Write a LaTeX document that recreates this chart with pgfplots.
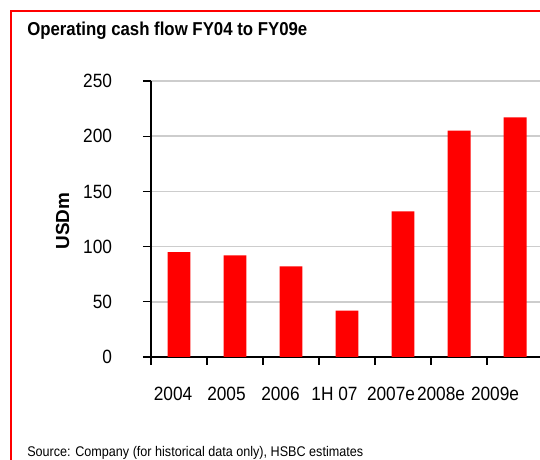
\documentclass[border=0pt]{standalone}
\usepackage{fontspec}
\setmainfont{Liberation Sans}
\newfontfamily\narrowfont[FakeStretch=0.9]{Liberation Sans}
\usepackage{pgfplots}
\pgfplotsset{compat=1.18}
\definecolor{barred}{RGB}{255,0,0}
\definecolor{gridgray}{RGB}{205,205,205}

\begin{document}
\begin{tikzpicture}
\useasboundingbox (0,0) rectangle (405pt,345pt);
% red frame, open to the right and bottom
\draw[barred, line width=1.5pt] (8.25pt,-1pt) -- (8.25pt,336.75pt) -- (406pt,336.75pt);
\node[anchor=base west, inner sep=0pt, font=\narrowfont\fontsize{14}{16}\selectfont\bfseries]
  at (20.25pt,318pt) {Operating cash flow FY04 to FY09e};
\node[anchor=base west, inner sep=0pt, font=\narrowfont\fontsize{10.5}{12}\selectfont]
  at (20.25pt,2.25pt) {Source: Company (for historical data only), HSBC estimates};
\node[rotate=90, inner sep=0pt, font=\fontsize{14.2}{16}\selectfont\bfseries]
  at (47pt,179.25pt) {USDm};

\begin{axis}[
  at={(113.25pt,77.25pt)}, anchor=south west,
  scale only axis, width=291.75pt, height=207pt,
  axis lines=left, axis line style={line width=1pt, -},
  xmin=-0.5, xmax=6.446, ymin=0, ymax=250,
  ytick={0,50,...,250},
  ymajorgrids, grid style={gridgray, line width=1.1pt},
  xtick={-0.107,0.848,1.812,2.777,3.786,4.679,5.643},
  xticklabels={2004,2005,2006,1H 07,2007e,2008e,2009e},
  minor xtick={-0.5,0.5,...,5.5},
  major x tick style={draw=none},
  tick align=outside, major tick length=6pt, minor tick length=6pt,
  tick style={line width=1pt, black},
  ticklabel style={font=\narrowfont\fontsize{14.4}{16}\selectfont},
  /pgf/number format/assume math mode=true,
  yticklabel style={anchor=east, inner sep=0pt, xshift=-23pt},
  xticklabel style={anchor=center, inner sep=0pt, yshift=-22pt},
  ybar, bar width=0.41,
]
\addplot[fill=barred, draw=none] coordinates {
 (0,95) (1,92) (2,82) (3,42) (4,132) (5,205) (6,217)};
\end{axis}
\end{tikzpicture}
\end{document}
